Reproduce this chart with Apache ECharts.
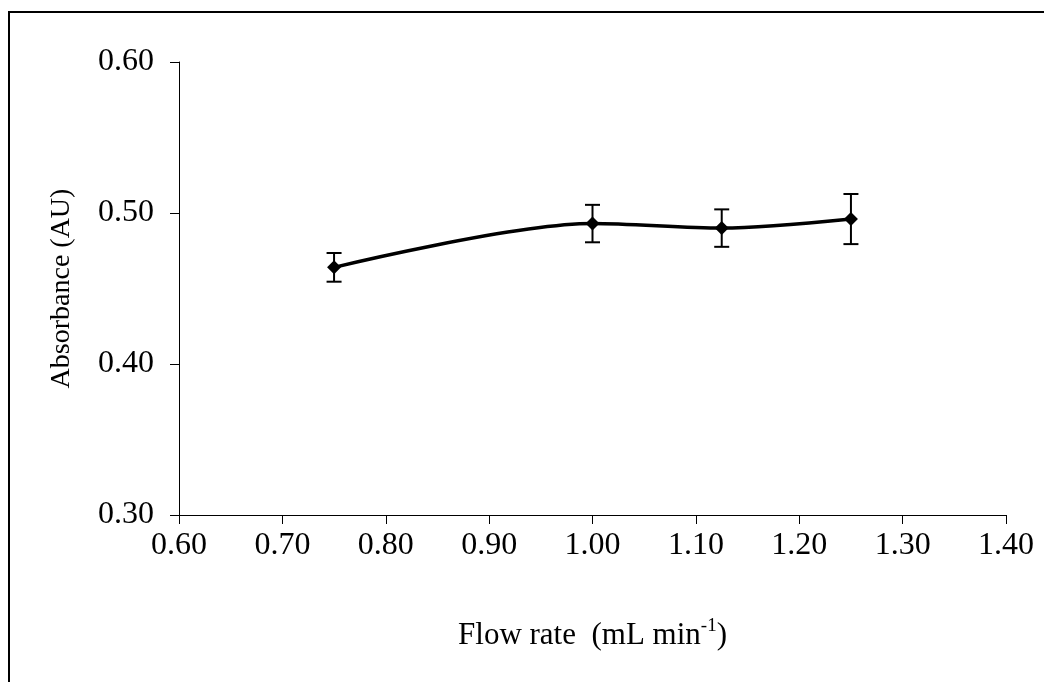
<!DOCTYPE html>
<html>
<head>
<meta charset="utf-8">
<script src="https://cdn.jsdelivr.net/npm/echarts@6/dist/echarts.min.js"></script>
<style>
html,body{margin:0;padding:0;background:#fff;}
#chart{width:1044px;height:682px;}
</style>
</head>
<body>
<div id="chart"></div>
<script>
// Data
var flowRate = [0.75, 1.00, 1.125, 1.25];
var absorbance = [0.464, 0.493, 0.490, 0.496];
var errorSD = [0.0095, 0.0124, 0.0124, 0.0166];
var xTickLabels = ['0.60','0.70','0.80','0.90','1.00','1.10','1.20','1.30','1.40'];
var yTickLabels = ['0.30','0.40','0.50','0.60'];

var lineData = flowRate.map(function (x, i) { return [x, absorbance[i]]; });
var errData = flowRate.map(function (x, i) { return [x, absorbance[i] - errorSD[i], absorbance[i] + errorSD[i]]; });

var font = '"Liberation Serif", "Times New Roman", serif';
var chart = echarts.init(document.getElementById('chart'), null, {renderer: 'canvas'});

chart.setOption({
  backgroundColor: '#ffffff',
  animation: false,
  graphic: [{
    type: 'rect',
    shape: {x: 9, y: 12, width: 1100, height: 800},
    style: {fill: 'none', stroke: '#000', lineWidth: 2},
    silent: true,
    z: 100
  }],
  grid: {left: 179, right: 38, top: 62, bottom: 167, containLabel: false},
  xAxis: {
    type: 'value',
    min: 0.6, max: 1.4, interval: 0.1,
    name: 'Flow rate  (mL min{sup|-1})',
    nameLocation: 'middle',
    nameGap: 102,
    nameTextStyle: {
      fontFamily: font, fontSize: 31, color: '#000',
      rich: {sup: {fontFamily: font, fontSize: 19, color: '#000', verticalAlign: 'top', padding: [0, 0, 18, 0]}}
    },
    axisLine: {show: true, lineStyle: {color: '#000', width: 1}},
    axisTick: {show: true, inside: false, length: 9, lineStyle: {color: '#000'}},
    splitLine: {show: false},
    axisLabel: {
      fontFamily: font, fontSize: 32, color: '#000', margin: 15,
      formatter: function (v) { var i = Math.round((v - 0.6) / 0.1); return xTickLabels[i] || ''; }
    }
  },
  yAxis: {
    type: 'value',
    min: 0.3, max: 0.6, interval: 0.1,
    name: 'Absorbance (AU)',
    nameLocation: 'middle',
    nameGap: 103,
    nameRotate: 90,
    nameTextStyle: {fontFamily: font, fontSize: 28, color: '#000'},
    axisLine: {show: true, lineStyle: {color: '#000', width: 1}},
    axisTick: {show: true, inside: false, length: 9, lineStyle: {color: '#000'}},
    splitLine: {show: false},
    axisLabel: {
      fontFamily: font, fontSize: 32, color: '#000', margin: 25,
      formatter: function (v) { var i = Math.round((v - 0.3) / 0.1); return yTickLabels[i] || ''; }
    }
  },
  series: [{
    type: 'line',
    data: lineData,
    smooth: 0.3,
    symbol: 'diamond',
    symbolSize: 14,
    itemStyle: {color: '#000'},
    lineStyle: {color: '#000', width: 3.5},
    z: 3
  }, {
    type: 'custom',
    data: errData,
    z: 4,
    renderItem: function (params, api) {
      var x = api.value(0);
      var lo = api.coord([x, api.value(1)]);
      var hi = api.coord([x, api.value(2)]);
      var hw = 7.5;
      var st = {stroke: '#000', lineWidth: 2};
      return {
        type: 'group',
        children: [
          {type: 'line', shape: {x1: lo[0], y1: lo[1], x2: hi[0], y2: hi[1]}, style: st},
          {type: 'line', shape: {x1: lo[0] - hw, y1: lo[1], x2: lo[0] + hw, y2: lo[1]}, style: st},
          {type: 'line', shape: {x1: hi[0] - hw, y1: hi[1], x2: hi[0] + hw, y2: hi[1]}, style: st}
        ]
      };
    }
  }]
});
</script>
</body>
</html>
